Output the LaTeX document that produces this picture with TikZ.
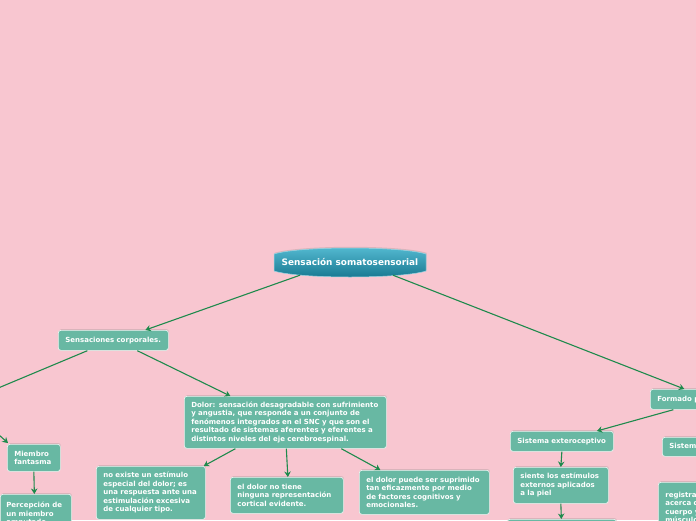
\documentclass[tikz,border=0pt]{standalone}
\usepackage{fontspec}
\setmainfont{DejaVu Sans}
\usetikzlibrary{arrows.meta,shadows}
\definecolor{bg}{HTML}{F8C6D0}
\definecolor{boxfill}{HTML}{68B8A3}
\definecolor{boxborder}{HTML}{E6F4EF}
\definecolor{linkc}{HTML}{1E8A4C}
\definecolor{ctop}{HTML}{55BBD2}
\definecolor{cbot}{HTML}{16768F}
\newcommand{\fs}{\fontsize{7}{8.5}\selectfont\bfseries}
\newcommand{\fc}{\fontsize{8.9}{10}\selectfont\bfseries}
\tikzset{
  box/.style={draw=boxborder, line width=0.7, fill=boxfill, rounded corners=2.5,
    text=white, font=\fs, align=left, anchor=north west, inner xsep=8, inner ysep=3,
    drop shadow={opacity=0.25, shadow xshift=0.6, shadow yshift=-1.2}},
  link/.style={draw=linkc, line width=1.1},
  arr/.style={link, -{Stealth[length=5.5,width=6.5]}}
}
\begin{document}
\begin{tikzpicture}[x=1pt,y=-1pt]
\useasboundingbox (0,0) rectangle (696,520);
\fill[bg] (0,0) rectangle (696,520);
\clip (0,0) rectangle (696,520);

% central node
\node[minimum width=154, minimum height=26, inner sep=0] (central) at (350,262) {};
\shade[top color=ctop, bottom color=cbot, draw=ctop!60!white, line width=0.5, drop shadow={opacity=0.25, shadow xshift=0.6, shadow yshift=-1.2}]
  (274,254) .. controls (300,246) and (400,246) .. (426,254)
  -- (426,271) .. controls (400,279) and (300,279) .. (274,271) -- cycle;
\node[text=white, font=\fc] at (central) {Sensación somatosensorial};

% boxes
\node[box, minimum width=110, minimum height=20, text width=96, inner xsep=7] (sc) at (58,330) {Sensaciones corporales.};
\node[box, minimum width=202, minimum height=52, text width=188, inner xsep=7] (dolor) at (184,396)
  {Dolor: sensación desagradable con sufrimiento\\y angustia, que responde a un conjunto de\\fenómenos integrados en el SNC y que son el\\resultado de sistemas aferentes y eferentes a\\distintos niveles del eje cerebroespinal.};
\node[box, minimum width=53, minimum height=27, text width=39, inner xsep=7] (mf) at (7,444) {Miembro\\fantasma};
\node[box, minimum width=71, minimum height=40, text width=59, inner xsep=6, inner ysep=4] (perc) at (0,494) {Percepción de\\un miembro\\amputado};
\node[box, minimum width=109, minimum height=53, text width=95, inner xsep=7] (ne) at (96,466)
  {no existe un estímulo\\especial del dolor; es\\una respuesta ante una\\estimulación excesiva\\de cualquier tipo.};
\node[box, minimum width=113, minimum height=36, text width=99, inner xsep=7] (dn) at (230,477)
  {el dolor no tiene\\ninguna representación\\cortical evidente.};
\node[box, minimum width=130, minimum height=44, text width=116, inner xsep=7] (dp) at (359,470)
  {el dolor puede ser suprimido\\tan eficazmente por medio\\de factores cognitivos y\\emocionales.};
\node[box, minimum width=80, minimum height=20, text width=66, inner xsep=7] (fp) at (650,389) {Formado por};
\node[box, minimum width=103, minimum height=20, text width=89, inner xsep=7] (se) at (510,431) {Sistema exteroceptivo};
\node[box, minimum width=95, minimum height=36, text width=81, inner xsep=7] (sie) at (513,467)
  {siente los estímulos\\externos aplicados\\a la piel};
\node[box, minimum width=109, minimum height=30, text width=95, inner xsep=7] (nx) at (507,519) {};
\node[box, minimum width=120, minimum height=19, text width=106, inner xsep=7] (si) at (662,437) {Sistema propioceptivo};
\node[box, minimum width=120, minimum height=50, text width=106, inner xsep=7] (reg) at (658,482)
  {registra información\\acerca de la posición\\cuerpo y de los\\músculos};

% off-frame ends
\coordinate (offA) at (-40,404);
\coordinate (offB) at (-20,418);

% connectors
\draw[arr] ([xshift=-50]central.south) -- ([xshift=32]sc.north);
\draw[arr] ([xshift=43]central.south) -- ([xshift=-6]fp.north);
\draw[link] ([xshift=-26]sc.south) -- (offA);
\draw[arr] (offB) -- ([xshift=1,yshift=1]mf.north west);
\draw[arr] ([xshift=24]sc.south) -- ([xshift=-55]dolor.north);
\draw[arr] ([xshift=-50]dolor.south) -- ([xshift=-2]ne.north east);
\draw[arr] ([xshift=1]dolor.south) -- ([xshift=1]dn.north);
\draw[arr] ([xshift=56]dolor.south) -- ([xshift=-44]dp.north);
\draw[arr] (mf.south) -- ([xshift=-1.5]perc.north);
\draw[arr] ([xshift=-17]fp.south) -- ([xshift=35]se.north);
\draw[arr] (se.south) -- (sie.north);
\draw[arr] (sie.south) -- ([xshift=-0.5]nx.north);
\end{tikzpicture}
\end{document}
